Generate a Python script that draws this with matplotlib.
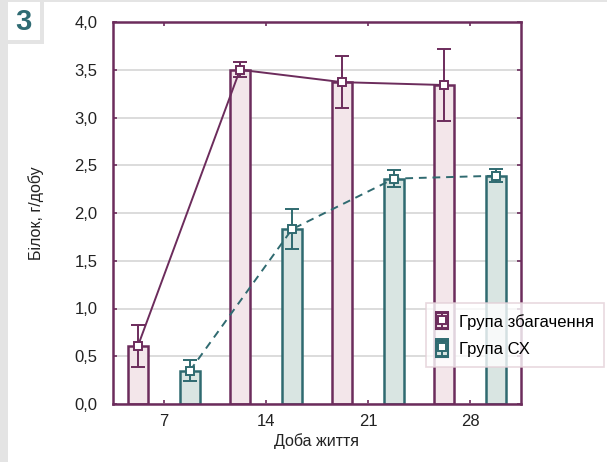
import numpy as np
import matplotlib
matplotlib.use("agg")
import matplotlib.pyplot as plt
from matplotlib.patches import Rectangle
from matplotlib.legend_handler import HandlerTuple
from matplotlib.ticker import FuncFormatter, MultipleLocator

plt.rcParams["font.family"] = ["Liberation Sans", "DejaVu Sans"]

# data
days = ["7", "14", "21", "28"]
enriched = [0.61, 3.50, 3.37, 3.34]
enriched_err = [0.22, 0.08, 0.27, 0.38]
control = [0.35, 1.83, 2.36, 2.39]
control_err = [0.11, 0.21, 0.09, 0.07]
labels = ["Група збагачення", "Група СХ"]

PURPLE = "#6c2c5c"
PINK = "#f3e6ea"
TEAL = "#2f6a70"
TEAL_FILL = "#d9e5e2"
GRAY = "#e4e4e4"

fig = plt.figure(figsize=(6.07, 4.62), dpi=100)
fig.patch.set_facecolor("white")

# grey frame around the panel + the "3" box
W, H = 607, 462
def frect(x0, y0, w, h):
    fig.patches.append(Rectangle((x0 / W, 1 - (y0 + h) / H), w / W, h / H,
                                 transform=fig.transFigure, facecolor=GRAY,
                                 edgecolor="none", zorder=0))
frect(0, 0, 8, H)
frect(0, 0, W, 2)
frect(40, 0, 4, 44)
frect(0, 40, 44, 4)
fig.text(23 / W, 1 - 22 / H, "3", fontsize=21, fontweight="bold", color="#2f6b73",
         ha="center", va="center")

ax = fig.add_axes([113 / W, 58 / H, 408 / W, 382 / H])

x = np.arange(len(days))
off, bw = 0.255, 0.205
ax.bar(x - off, enriched, bw, color=PINK, edgecolor=PURPLE, linewidth=1.8, zorder=2)
ax.bar(x + off, control, bw, color=TEAL_FILL, edgecolor=TEAL, linewidth=1.8, zorder=2)

eb1 = ax.errorbar(x - off, enriched, yerr=enriched_err, color=PURPLE, linestyle="-",
                  linewidth=1.4, elinewidth=1.4, capsize=5, capthick=1.4,
                  marker="s", markersize=5.5, markerfacecolor="white",
                  markeredgecolor=PURPLE, markeredgewidth=1.4, zorder=4)
eb2 = ax.errorbar(x + off, control, yerr=control_err, color=TEAL, linestyle=(0, (4, 3)),
                  linewidth=1.4, elinewidth=1.4, capsize=5, capthick=1.4,
                  marker="s", markersize=5.5, markerfacecolor="white",
                  markeredgecolor=TEAL, markeredgewidth=1.4, zorder=4)

ax.set_xlim(-0.5, len(days) - 0.5)
ax.set_ylim(0, 4.0)
ax.set_xticks(x)
ax.set_xticklabels(days)
ax.yaxis.set_major_locator(MultipleLocator(0.5))
ax.yaxis.set_major_formatter(FuncFormatter(lambda v, p: f"{v:.1f}".replace(".", ",")))
ax.grid(axis="y", color="#d2d2d2", linewidth=1.1, zorder=0)
ax.set_axisbelow(True)

ax.tick_params(direction="in", length=3, width=1.2, color=PURPLE, labelsize=12,
               labelcolor="#222222", top=True, right=True, pad=7)
ax.tick_params(axis="y", pad=11)
for s in ax.spines.values():
    s.set_color(PURPLE)
    s.set_linewidth(1.8)

ax.set_xlabel("Доба життя", fontsize=11.5, color="#222222", labelpad=3)
ax.set_ylabel("Білок, г/добу", fontsize=11.5, color="#222222", labelpad=22)

# legend icons: small bar with the marker and caps on top of it
lh1 = (Rectangle((0, 0), 1, 1, facecolor=PINK, edgecolor=PURPLE, linewidth=1.5),
       eb1)
lh2 = (Rectangle((0, 0), 1, 1, facecolor=TEAL_FILL, edgecolor=TEAL, linewidth=1.5),
       eb2)
leg = fig.legend([lh1, lh2], labels, loc="upper left",
                 bbox_to_anchor=(426 / W, 1 - 303 / H), borderaxespad=0,
                 fontsize=12, frameon=True, fancybox=False,
                 handlelength=0.7, handleheight=1.1, handletextpad=0.7,
                 borderpad=0.6, labelspacing=0.65,
                 handler_map={tuple: HandlerTuple(ndivide=1)})
leg.get_frame().set_edgecolor("#e3cfd7")
leg.get_frame().set_linewidth(1.2)

fig.savefig("out.png", dpi=100)
